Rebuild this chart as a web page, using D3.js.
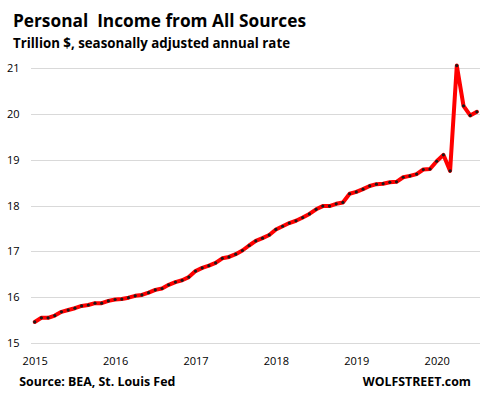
<!DOCTYPE html>
<html>
<head>
<meta charset="utf-8">
<script src="https://cdn.jsdelivr.net/npm/d3@7"></script>
<style>
  html, body { margin: 0; padding: 0; background: #fff; }
  svg { display: block; }
  text { font-family: "Open Sans", "Noto Sans", sans-serif; fill: #000; }
</style>
</head>
<body>
<svg id="chart" width="485" height="397"></svg>
<script>
// ---- data (trillion $, SAAR), monthly Jan 2015 .. Jul 2020 ----
const startYear = 2015;
const values2015 = [15.46, 15.55, 15.55, 15.60, 15.68, 15.72, 15.76, 15.81, 15.83, 15.87, 15.87, 15.92];
const values2016 = [15.95, 15.96, 15.99, 16.03, 16.05, 16.10, 16.16, 16.19, 16.27, 16.33, 16.37, 16.44];
const values2017 = [16.57, 16.64, 16.69, 16.75, 16.85, 16.88, 16.94, 17.02, 17.13, 17.23, 17.29, 17.36];
const values2018 = [17.48, 17.55, 17.62, 17.67, 17.74, 17.82, 17.92, 17.99, 17.99, 18.04, 18.07, 18.26];
const values2019 = [18.30, 18.36, 18.43, 18.47, 18.48, 18.51, 18.52, 18.62, 18.65, 18.69, 18.79, 18.80];
const values2020 = [18.97, 19.11, 18.76, 21.06, 20.18, 19.97, 20.05];
const xTickLabels = ["2015", "2016", "2017", "2018", "2019", "2020"];
const yTickValues = [15, 16, 17, 18, 19, 20, 21];
const titleText = "Personal\u00A0 Income from All Sources";
const subtitleText = "Trillion $, seasonally adjusted annual rate";
const sourceText = "Source: BEA, St. Louis Fed";
const brandText = "WOLFSTREET.com";

const series = [values2015, values2016, values2017, values2018, values2019, values2020]
  .flat()
  .map((v, i) => ({ t: startYear + i / 12, v }));

const svg = d3.select("#chart");

const x = d3.scaleLinear().domain([2015, 2020.5]).range([34.7, 476.9]);
const y = d3.scaleLinear().domain([15, 21]).range([343, 68.3]);

// gridlines
svg.append("g")
  .selectAll("line")
  .data(yTickValues)
  .join("line")
  .attr("x1", 31).attr("x2", 480)
  .attr("y1", d => Math.round(y(d)) + 0.5)
  .attr("y2", d => Math.round(y(d)) + 0.5)
  .attr("stroke", "#d9d9d9")
  .attr("stroke-width", 1);

// y axis labels
const yAxis = d3.axisLeft(y).tickValues(yTickValues).tickSize(0).tickPadding(0).tickFormat(d3.format("d"));
const gy = svg.append("g").attr("transform", "translate(19.5,0)").call(yAxis);
gy.select(".domain").remove();
gy.selectAll("text").attr("font-size", 11).attr("font-family", "Open Sans").attr("fill", "#000");

// x axis labels
const xAxis = d3.axisBottom(x)
  .tickValues(xTickLabels.map(Number))
  .tickSize(0).tickPadding(0)
  .tickFormat((d, i) => xTickLabels[i]);
const gx = svg.append("g").attr("transform", "translate(0,357)").call(xAxis);
gx.select(".domain").remove();
gx.selectAll("text").attr("font-size", 11).attr("font-family", "Open Sans").attr("fill", "#000");

// line
const line = d3.line().x(d => x(d.t)).y(d => y(d.v));
svg.append("path")
  .datum(series)
  .attr("d", line)
  .attr("fill", "none")
  .attr("stroke", "#ff0000")
  .attr("stroke-width", 4)
  .attr("stroke-linejoin", "round")
  .attr("stroke-linecap", "round");

// markers
svg.append("g")
  .selectAll("circle")
  .data(series)
  .join("circle")
  .attr("cx", d => x(d.t))
  .attr("cy", d => y(d.v))
  .attr("r", 1.6)
  .attr("fill", "#1a1a1a");

// titles
function fitText(sel, width) {
  sel.attr("textLength", width).attr("lengthAdjust", "spacingAndGlyphs");
}
svg.append("text").attr("x", 13).attr("y", 26.7)
  .attr("font-size", 18).attr("font-weight", "bold").text(titleText)
  .call(fitText, 293);
svg.append("text").attr("x", 13).attr("y", 48.3)
  .attr("font-size", 15).attr("font-weight", "bold").text(subtitleText)
  .call(fitText, 277);
svg.append("text").attr("x", 19.3).attr("y", 386)
  .attr("font-size", 13).attr("font-weight", "bold").text(sourceText)
  .call(fitText, 156);
svg.append("text").attr("x", 362.7).attr("y", 386)
  .attr("font-size", 13).attr("font-weight", "bold").text(brandText)
  .call(fitText, 108.3);
</script>
</body>
</html>
